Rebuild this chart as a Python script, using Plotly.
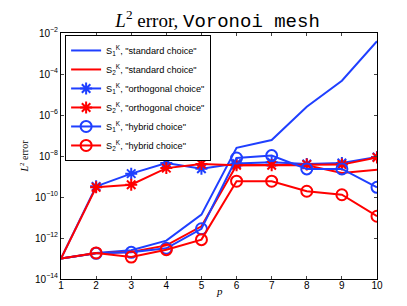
import plotly.graph_objects as go

p = [1, 2, 3, 4, 5, 6, 7, 8, 9, 10]

# log10 of L2 error
std_s1 = [-13.0, -12.73, -12.6, -12.13, -10.86, -7.6, -7.22, -5.6, -4.33, -2.4]
std_s2 = [-13.0, -12.75, -12.68, -12.36, -11.43, -8.45, -8.45, -8.45, -8.83, -8.67]
orth_s1 = [-13.0, -9.48, -8.86, -8.34, -8.62, -8.37, -8.3, -8.39, -8.34, -8.05]
orth_s2 = [-13.0, -9.53, -9.4, -8.59, -8.39, -8.45, -8.45, -8.42, -8.42, -8.07]
hyb_s1 = [-13.0, -12.75, -12.7, -12.5, -11.55, -8.1, -7.98, -8.63, -8.63, -9.53]
hyb_s2 = [-13.0, -12.73, -12.93, -12.57, -12.08, -9.23, -9.23, -9.72, -9.89, -10.94]

names = [
    'S<sub>1</sub><sup>K</sup>, "standard choice"',
    'S<sub>2</sub><sup>K</sup>, "standard choice"',
    'S<sub>1</sub><sup>K</sup>, "orthogonal choice"',
    'S<sub>2</sub><sup>K</sup>, "orthogonal choice"',
    'S<sub>1</sub><sup>K</sup>, "hybrid choice"',
    'S<sub>2</sub><sup>K</sup>, "hybrid choice"',
]
series = [std_s1, std_s2, orth_s1, orth_s2, hyb_s1, hyb_s2]
BLUE = "#1f3fff"
RED = "#ff0000"
colors = [BLUE, RED, BLUE, RED, BLUE, RED]
symbols = [None, None, "asterisk-open", "asterisk-open", "circle-open", "circle-open"]

ytick_exp = [-14, -12, -10, -8, -6, -4, -2]
ytick_text = ["10<sup>\u2212%d</sup>" % (-e) for e in ytick_exp]

fig = go.Figure()
for i, (name, s, c, sym) in enumerate(zip(names, series, colors, symbols)):
    vals = [10 ** v for v in s]
    if sym is None:
        fig.add_trace(go.Scatter(x=p, y=vals, mode="lines", name=name,
                                 line=dict(color=c, width=2), legendrank=i + 1))
    else:
        msize = 11 if "circle" in sym else 10
        # segment from p=1 (marker hidden at the axis edge)
        fig.add_trace(go.Scatter(x=p[:2], y=vals[:2], mode="lines", showlegend=False,
                                 line=dict(color=c, width=2), hoverinfo="skip"))
        fig.add_trace(go.Scatter(x=p[1:], y=vals[1:], mode="lines+markers", name=name,
                                 line=dict(color=c, width=2), legendrank=i + 1,
                                 marker=dict(symbol=sym, size=msize,
                                             color=c, line=dict(color=c, width=2))))

fig.update_layout(
    width=407, height=306,
    margin=dict(l=53, r=38, t=25, b=35),
    paper_bgcolor="white", plot_bgcolor="white",
    font=dict(family="Liberation Sans, Arial", size=10, color="black"),
    title=dict(
        text='<i>L</i><sup>2</sup> error, <span style="font-family:Liberation Mono">Voronoi mesh</span>',
        x=0.515, xanchor="center", y=0.96, yanchor="middle",
        font=dict(family="Liberation Serif", size=19, color="black")),
    showlegend=True,
    legend=dict(x=0.013, y=0.992, xanchor="left", yanchor="top",
                bgcolor="white", bordercolor="black", borderwidth=1,
                font=dict(family="Liberation Sans, Arial", size=9.2),
                itemwidth=30, tracegroupgap=0),
    xaxis=dict(range=[1, 10], tickvals=p, ticks="inside", ticklen=3,
               showline=True, linecolor="black", linewidth=1, mirror="ticks",
               showgrid=False, zeroline=False,
               tickfont=dict(size=10), ticklabelstandoff=-3),
    yaxis=dict(type="log", range=[-14, -2], tickvals=[10 ** e for e in ytick_exp],
               ticktext=ytick_text, ticks="inside", ticklen=3,
               showline=True, linecolor="black", linewidth=1, mirror="ticks",
               showgrid=False, zeroline=False,
               tickfont=dict(size=10),
               title=dict(text="<i>L</i><sup>2</sup> error",
                          font=dict(family="Liberation Serif", size=10), standoff=4)),
    annotations=[dict(text="<i>p</i>", xref="paper", yref="paper", x=0.5, y=-0.05,
                      xanchor="center", yanchor="middle", showarrow=False,
                      font=dict(family="Liberation Serif", size=11))],
)

fig.write_html("out.html")
